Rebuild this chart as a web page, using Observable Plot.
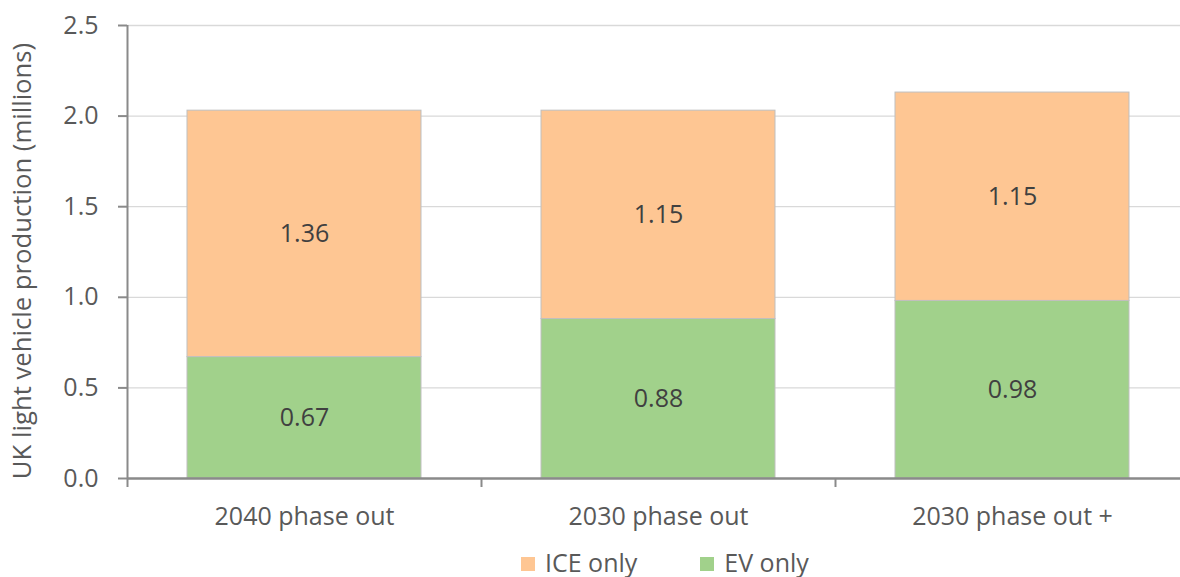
<!DOCTYPE html>
<html>
<head>
<meta charset="utf-8">
<script src="https://cdn.jsdelivr.net/npm/d3@7"></script>
<script src="https://cdn.jsdelivr.net/npm/@observablehq/plot@0.6"></script>
<style>
  body { margin: 0; background: #fff; font-family: "Open Sans", sans-serif; position: relative; width: 1180px; height: 577px; overflow: hidden; }
  #legend { position: absolute; top: 548px; left: 521px; display: flex; gap: 63px; font-size: 25px; color: #595959; align-items: center; line-height: 28px; }
  #legend span.sw { display: inline-block; width: 14px; height: 14px; margin-right: 10px; vertical-align: 1px; }
</style>
</head>
<body>
<div id="chart"></div>
<div id="legend"></div>
<script>
const categories = ["2040 phase out", "2030 phase out", "2030 phase out +"];
const evOnly = [0.67, 0.88, 0.98];
const iceOnly = [1.36, 1.15, 1.15];
const seriesNames = ["EV only", "ICE only"];
const legendOrder = ["ICE only", "EV only"];
const colors = {"EV only": "#A1D18B", "ICE only": "#FEC693"};
const yTicks = [0, 0.5, 1.0, 1.5, 2.0, 2.5];
const yLabel = "UK light vehicle production (millions)";

const data = [];
categories.forEach((c, i) => {
  data.push({category: c, series: "EV only", value: evOnly[i]});
  data.push({category: c, series: "ICE only", value: iceOnly[i]});
});

const textColor = "#595959";
const axisColor = "#8A8A8A";

const chart = Plot.plot({
  width: 1180,
  height: 540,
  marginTop: 25,
  marginBottom: 62,
  marginLeft: 127,
  marginRight: 0,
  style: {fontFamily: "'Open Sans', sans-serif", color: textColor, background: "#fff"},
  x: {domain: categories, range: [127, 1189], paddingInner: 0.34, paddingOuter: 0.17, align: 0.5, label: null},
  y: {domain: [0, 2.5], label: null},
  color: {domain: seriesNames, range: seriesNames.map(s => colors[s])},
  marks: [
    Plot.ruleY(yTicks.filter(t => t > 0), {y: d => d, stroke: "#D9D9D9", strokeWidth: 1.3}),
    Plot.barY(data, Plot.stackY({
      x: "category", y: "value", fill: "series", z: "series", order: seriesNames,
      stroke: "#BFBFBF", strokeWidth: 1
    })),
    Plot.text(data, Plot.stackY({
      x: "category", y: "value", z: "series", order: seriesNames,
      text: d => d.value.toFixed(2), fontSize: 25, fill: "#404040"
    })),
    Plot.axisY({ticks: yTicks, tickFormat: d => d.toFixed(1), tickSize: 9, tickPadding: 20,
      fontSize: 25, stroke: axisColor, strokeWidth: 2, fill: textColor, label: null}),
    Plot.axisX({tickSize: 0, tickPadding: 29, fontSize: 25, fill: textColor, label: null}),
    Plot.ruleX([0], {x: () => categories[0], dx: -177, y1: 0, y2: 2.5, stroke: axisColor, strokeWidth: 2}),
    Plot.ruleX(categories, {x: d => d, dx: -177, y1: 0, y2: 0, insetBottom: -9, stroke: axisColor, strokeWidth: 2}),
    Plot.ruleY([0], {y: 0, stroke: axisColor, strokeWidth: 2.5}),
    Plot.text([yLabel], {frameAnchor: "left", textAnchor: "middle", text: d => d, rotate: -90, dx: -105, dy: 9, fontSize: 25.7, fill: textColor})
  ]
});
document.getElementById("chart").appendChild(chart);

const legend = document.getElementById("legend");
legendOrder.forEach(s => {
  const item = document.createElement("div");
  const sw = document.createElement("span");
  sw.className = "sw";
  sw.style.background = colors[s];
  item.appendChild(sw);
  item.appendChild(document.createTextNode(s));
  legend.appendChild(item);
});
</script>
</body>
</html>
